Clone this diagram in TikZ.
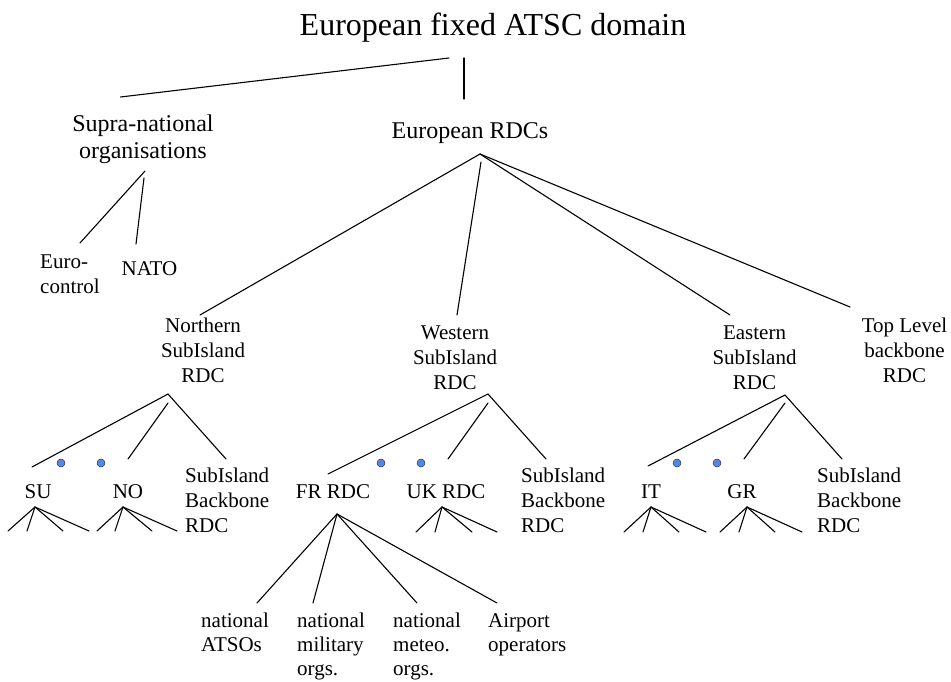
\documentclass[tikz,border=0pt]{standalone}
\usepackage{fontspec}
\setmainfont{Liberation Serif}
\definecolor{dotblue}{RGB}{85,135,235}
\begin{document}
\begin{tikzpicture}[x=1pt,y=-1pt,
  % multi-line labels are placed by the baseline of their last line
  ttl/.style={font=\fontsize{32}{38}\selectfont, inner sep=0, anchor=base},
  big/.style={font=\fontsize{24}{27.5}\selectfont, inner sep=0, anchor=base, align=center},
  lbl/.style={font=\fontsize{21}{25}\selectfont, inner sep=0, anchor=base, align=center},
  lbll/.style={font=\fontsize{21}{25}\selectfont, inner sep=0, anchor=base west, align=left},
  leaf/.style={font=\fontsize{21}{24}\selectfont, inner sep=0, anchor=base west, align=left},
  link/.style={line width=1.1pt, line cap=round},
  dotnode/.style={circle, draw=black!80, line width=0.5pt, fill=dotblue, minimum size=8pt, inner sep=0}]
\path[use as bounding box] (0,0) rectangle (951,682);

% ---- labels ----
\node[ttl] (title) at (493,36) {European fixed ATSC domain};
\node[big] (supra) at (143,158.5) {Supra-national\\organisations};
\node[big] (eurdc) at (470,139) {European RDCs};
\node[lbll] (euro) at (40,293) {Euro-\\control};
\node[lbl] (nato) at (149.5,275.5) {NATO};

\node[lbl] (north) at (203,382) {Northern\\SubIsland\\RDC};
\node[lbl] (west) at (455,389) {Western\\SubIsland\\RDC};
\node[lbl] (east) at (754.5,389) {Eastern\\SubIsland\\RDC};
\node[lbl] (top) at (904.5,382) {Top Level\\backbone\\RDC};

\node[lbl] (su) at (38,498) {SU};
\node[lbl] (no) at (128,498) {NO};
\node[lbll] (nbb) at (185,532) {SubIsland\\Backbone\\RDC};
\node[lbl] (fr) at (333,498) {FR RDC};
\node[lbl] (uk) at (446,498) {UK RDC};
\node[lbll] (wbb) at (521,532) {SubIsland\\Backbone\\RDC};
\node[lbl] (it) at (651,498) {IT};
\node[lbl] (gr) at (742,498) {GR};
\node[lbll] (ebb) at (817,532) {SubIsland\\Backbone\\RDC};

\node[leaf] (atso) at (201,651) {national\\ATSOs};
\node[leaf] (mil) at (297,675) {national\\military\\orgs.};
\node[leaf] (met) at (393,675) {national\\meteo.\\orgs.};
\node[leaf] (air) at (488,651) {Airport\\operators};

% ---- connector end points ----
\coordinate (tL) at (449,58);   \coordinate (supraTip) at (120.5,97);
\coordinate (tV) at (464,58);   \coordinate (eurdcTip) at (464,99);
\coordinate (sApex) at (145,171);  \coordinate (euroTip) at (80,243);
\coordinate (sApex2) at (144,178); \coordinate (natoTip) at (136,244);
\coordinate (rApex) at (480,154);  \coordinate (rApex2) at (481,162);
\coordinate (northTip) at (200,315); \coordinate (westTip) at (457,315);
\coordinate (eastTip) at (730,315);  \coordinate (topTip) at (850,307);

\coordinate (nApex) at (168,394); \coordinate (nApex2) at (168,403);
\coordinate (suTip) at (32,467);  \coordinate (noTip) at (128,459); \coordinate (nbbTip) at (226,459);
\coordinate (wApex) at (488,394); \coordinate (wApex2) at (488,403);
\coordinate (frTip) at (328,474); \coordinate (ukTip) at (448,459); \coordinate (wbbTip) at (546,459);
\coordinate (eApex) at (785,395); \coordinate (eApex2) at (785,403);
\coordinate (itTip) at (648,466); \coordinate (grTip) at (744,459); \coordinate (ebbTip) at (842,459);

\coordinate (frApex) at (337,514);
\coordinate (atsoTip) at (257,603); \coordinate (milTip) at (313,603);
\coordinate (metTip) at (417,603);  \coordinate (airTip) at (497,603);

% ---- tree links ----
\draw[link] (tL) -- (supraTip);
\draw[link] (tV) -- (eurdcTip);
\draw[link] (sApex) -- (euroTip);
\draw[link] (sApex2) -- (natoTip);
\draw[link] (rApex) -- (northTip);
\draw[link] (rApex2) -- (westTip);
\draw[link] (rApex) -- (eastTip);
\draw[link] (rApex) -- (topTip);

\draw[link] (nApex) -- (suTip);
\draw[link] (nApex2) -- (noTip);
\draw[link] (nApex) -- (nbbTip);
\draw[link] (wApex) -- (frTip);
\draw[link] (wApex2) -- (ukTip);
\draw[link] (wApex) -- (wbbTip);
\draw[link] (eApex) -- (itTip);
\draw[link] (eApex2) -- (grTip);
\draw[link] (eApex) -- (ebbTip);

\draw[link] (frApex) -- (atsoTip);
\draw[link] (frApex) -- (milTip);
\draw[link] (frApex) -- (metTip);
\draw[link] (frApex) -- (airTip);

% ---- truncated fans below the country nodes ----
\foreach \name/\ax/\ay/\ya/\xa/\xb/\xc/\xd in {
    su/35/507/531/8/27/63/89,
    no/123/507/531/97/115/152/177,
    uk/442/507/532/416/435/472/497,
    it/651/507/532/624/643/679/706,
    gr/747/507/532/720/739/775/802}{
  \coordinate (\name Fan) at (\ax,\ay);
  \foreach \xe [count=\k] in {\xa,\xb,\xc,\xd}{
    \coordinate (\name Leaf\k) at (\xe,\ya);
    \draw[link] (\name Fan) -- (\name Leaf\k);
  }
}

% ---- ellipsis dots ----
\node[dotnode] (nd1) at (61,463) {};  \node[dotnode] (nd2) at (101,463) {};
\node[dotnode] (wd1) at (381,463) {}; \node[dotnode] (wd2) at (421,463) {};
\node[dotnode] (ed1) at (677,463) {}; \node[dotnode] (ed2) at (717,463) {};
\end{tikzpicture}
\end{document}
